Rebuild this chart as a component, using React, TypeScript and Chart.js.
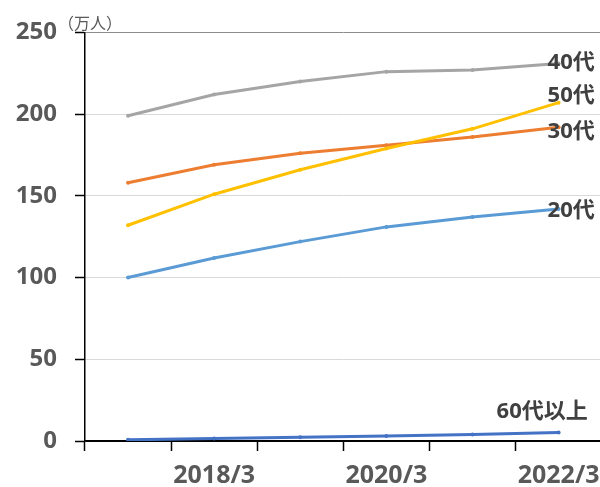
import React, { useEffect, useRef } from "react";
import { Chart, registerables } from "chart.js";
Chart.register(...registerables);

const categories = ["2017/3", "2018/3", "2019/3", "2020/3", "2021/3", "2022/3"];
const shownLabels = ["2018/3", "2020/3", "2022/3"];
const seriesNames = ["20代", "30代", "40代", "50代", "60代以上"];
const s20 = [100, 112, 122, 131, 137, 142];
const s30 = [158, 169, 176, 181, 186, 192];
const s40 = [199, 212, 220, 226, 227, 231];
const s50 = [132, 151, 166, 179, 191, 207];
const s60 = [0.7, 1.5, 2.3, 3, 4, 5.2];
const unitLabel = "（万人）";

const colors: Record<string, string> = {
  "20代": "#5B9BD5",
  "30代": "#ED7D31",
  "40代": "#A5A5A5",
  "50代": "#FFC000",
  "60代以上": "#4472C4",
};
const labelOffsets: Record<string, [number, number]> = {
  "40代": [-11, -1],
  "50代": [-11, -7],
  "30代": [-11, 5],
  "20代": [-11, 2],
  "60代以上": [-62, -21],
};

const LATIN = '"Open Sans", "Noto Sans CJK JP", sans-serif';

const labelPlugin = {
  id: "endLabels",
  afterDatasetsDraw(chart: any) {
    const ctx = chart.ctx;
    ctx.save();
    chart.data.datasets.forEach((ds: any, i: number) => {
      const meta = chart.getDatasetMeta(i);
      const pt = meta.data[meta.data.length - 1];
      const off = labelOffsets[ds.label] || [0, 0];
      ctx.font = `bold 22px ${LATIN}`;
      ctx.fillStyle = "#404040";
      ctx.textAlign = "left";
      ctx.textBaseline = "middle";
      ctx.fillText(ds.label, pt.x + off[0], pt.y + off[1]);
    });
    const ca = chart.chartArea;
    ctx.font = `16px "Noto Sans CJK JP", sans-serif`;
    ctx.fillStyle = "#595959";
    ctx.textAlign = "left";
    ctx.textBaseline = "alphabetic";
    ctx.fillText(unitLabel, ca.left - 27, ca.top - 3);
    ctx.restore();
  },
};

export default function App() {
  const ref = useRef<HTMLCanvasElement>(null);
  useEffect(() => {
    if (!ref.current) return;
    const seriesData: Record<string, number[]> = {
      "20代": s20,
      "30代": s30,
      "40代": s40,
      "50代": s50,
      "60代以上": s60,
    };
    const datasets = seriesNames.map((name, idx) => ({
      label: name,
      data: seriesData[name],
      borderColor: colors[name],
      backgroundColor: colors[name],
      borderWidth: 3,
      pointRadius: 2,
      pointBorderWidth: 0,
      pointHoverRadius: 2,
      tension: 0,
      order: seriesNames.length - idx,
    }));
    const chart = new Chart(ref.current, {
      type: "line",
      data: { labels: categories, datasets },
      options: {
        animation: false,
        responsive: false,
        maintainAspectRatio: false,
        layout: { padding: { top: 30, right: 6, left: 0, bottom: 0 } },
        plugins: { legend: { display: false }, tooltip: { enabled: false } },
        scales: {
          x: {
            type: "category",
            offset: true,
            grid: {
              offset: true,
              drawOnChartArea: false,
              tickLength: 10,
              tickColor: "#000",
              tickWidth: 1.5,
            },
            border: { color: "#000", width: 1.5 },
            ticks: {
              autoSkip: false,
              maxRotation: 0,
              minRotation: 0,
              padding: 10,
              color: "#595959",
              font: { family: LATIN, size: 25, weight: "bold" },
              callback: (_v: any, i: number) =>
                shownLabels.includes(categories[i]) ? categories[i] : "",
            },
            afterFit: (s: any) => {
              s.height = 46;
            },
          },
          y: {
            min: 0,
            max: 250,
            ticks: {
              stepSize: 50,
              padding: 18,
              color: "#595959",
              font: { family: LATIN, size: 24, weight: "bold" },
            },
            grid: {
              color: (c: any) =>
                c.tick && c.tick.value === 250
                  ? "#8c8c8c"
                  : c.tick && c.tick.value === 0
                  ? "#000"
                  : "#d9d9d9",
              tickColor: "#000",
              tickLength: 10,
              lineWidth: 1,
              tickWidth: 1.5,
            },
            border: { color: "#000", width: 1.5 },
            afterFit: (s: any) => {
              s.width = 85;
            },
          },
        },
      },
      plugins: [labelPlugin],
    });
    return () => chart.destroy();
  }, []);
  return (
    <div
      style={{
        position: "fixed",
        left: 0,
        top: 0,
        width: 600,
        height: 487,
        overflow: "hidden",
        background: "#fff",
      }}
    >
      <canvas ref={ref} width={610} height={487} style={{ display: "block" }} />
    </div>
  );
}
